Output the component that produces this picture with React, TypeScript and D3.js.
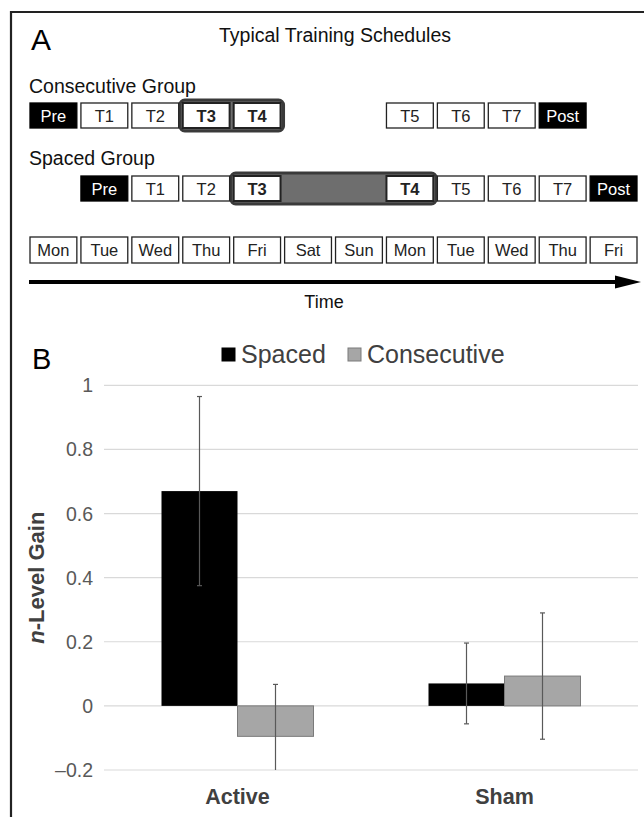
import React from "react";
import * as d3 from "d3";

// ---------- Panel A data ----------
const days = ["Mon", "Tue", "Wed", "Thu", "Fri", "Sat", "Sun", "Mon", "Tue", "Wed", "Thu", "Fri"];
const sessionLabels = ["Pre", "T1", "T2", "T3", "T4", "T5", "T6", "T7", "Post"];
const consecutiveSlots = [0, 1, 2, 3, 4, 7, 8, 9, 10];
const spacedSlots = [1, 2, 3, 4, 7, 8, 9, 10, 11];
const consecutiveHighlight = [3, 4];
const spacedHighlight = [4, 7];

// ---------- Panel B data ----------
const categories = ["Active", "Sham"];
const seriesNames = ["Spaced", "Consecutive"];
const spacedMeans = [0.67, 0.07];
const consecutiveMeans = [-0.095, 0.093];
const spacedErrors = [0.295, 0.126];
const consecutiveErrors = [0.162, 0.197];
const yTicks = [-0.2, 0, 0.2, 0.4, 0.6, 0.8, 1];
const yTickLabels = ["\u20130.2", "0", "0.2", "0.4", "0.6", "0.8", "1"];

const FONT = "'Liberation Sans', Arial, Helvetica, sans-serif";
const seriesColors = ["#000000", "#a6a6a6"];
const seriesStroke = ["#000000", "#7a7a7a"];

export default function App() {
  const W = 644;
  const H = 817;

  // schedule slots
  const slot = d3
    .scaleBand<number>()
    .domain(d3.range(days.length))
    .range([30, 637])
    .paddingInner(0.08)
    .paddingOuter(0);
  const bw = slot.bandwidth();

  const rowConsY = 103;
  const rowSpacedY = 176;
  const rowDaysY = 237;
  const boxH = 25;

  const isBold = (lab: string) => lab === "T3" || lab === "T4";
  const isDark = (lab: string) => lab === "Pre" || lab === "Post";

  const renderRow = (slots: number[], y: number, key: string) =>
    slots.map((s, i) => {
      const lab = sessionLabels[i];
      const x = slot(s)!;
      return (
        <g key={key + i}>
          <rect
            x={x}
            y={y}
            width={bw}
            height={boxH}
            fill={isDark(lab) ? "#000" : "#fff"}
            stroke={isDark(lab) ? "#000" : "#222"}
            strokeWidth={isBold(lab) ? 2 : 1.3}
          />
          <text
            x={x + bw / 2}
            y={y + boxH / 2 + 6}
            textAnchor="middle"
            fontSize={16.5}
            fontWeight={isBold(lab) ? "bold" : "normal"}
            fill={isDark(lab) ? "#fff" : "#222"}
          >
            {lab}
          </text>
        </g>
      );
    });

  const highlight = (range: number[], y: number, fill: string) => {
    const x0 = slot(range[0])! - 3;
    const x1 = slot(range[1])! + bw + 3;
    return (
      <rect
        x={x0}
        y={y - 3}
        width={x1 - x0}
        height={boxH + 6}
        rx={5}
        ry={5}
        fill={fill}
        stroke="#3a3a3a"
        strokeWidth={3}
      />
    );
  };

  // chart scales
  const plotLeft = 104;
  const plotRight = 638;
  const y = d3.scaleLinear().domain([-0.2, 1]).range([770, 385.3]);
  const x0 = d3.scaleBand<string>().domain(categories).range([plotLeft, plotRight]).paddingInner(0).paddingOuter(0);
  const groupW = 152;
  const x1 = d3
    .scaleBand<string>()
    .domain(seriesNames)
    .range([0, groupW])
    .padding(0);

  const values = [spacedMeans, consecutiveMeans];
  const errors = [spacedErrors, consecutiveErrors];
  const [yMin, yMax] = y.domain();

  return (
    <svg
      width={W}
      height={H}
      viewBox={`0 0 ${W} ${H}`}
      style={{ position: "absolute", left: 0, top: 0, fontFamily: FONT, background: "#fff" }}
    >
      <rect x={0} y={0} width={W} height={H} fill="#fff" />
      {/* frame */}
      <line x1={11} y1={12} x2={W} y2={12} stroke="#222" strokeWidth={2.2} />
      <line x1={11} y1={11} x2={11} y2={H} stroke="#222" strokeWidth={2.2} />

      {/* Panel A */}
      <text x={31} y={50} fontSize={30} fill="#000">A</text>
      <text x={335} y={42} fontSize={19.5} textAnchor="middle" fill="#111">
        Typical Training Schedules
      </text>
      <text x={29} y={93} fontSize={19.5} fill="#111">Consecutive Group</text>
      <text x={29} y={165} fontSize={19.5} fill="#111">Spaced Group</text>

      {highlight(consecutiveHighlight, rowConsY, "#6e6e6e")}
      {highlight(spacedHighlight, rowSpacedY, "#6e6e6e")}
      {renderRow(consecutiveSlots, rowConsY, "c")}
      {renderRow(spacedSlots, rowSpacedY, "s")}

      {days.map((d, i) => {
        const x = slot(i)!;
        return (
          <g key={"d" + i}>
            <rect x={x} y={rowDaysY} width={bw} height={26} fill="#fff" stroke="#222" strokeWidth={1.3} />
            <text x={x + bw / 2} y={rowDaysY + 19} textAnchor="middle" fontSize={16.5} fill="#222">
              {d}
            </text>
          </g>
        );
      })}

      {/* time arrow */}
      <line x1={29} y1={282} x2={620} y2={282} stroke="#000" strokeWidth={4} />
      <polygon points="615,275.5 641,282 615,288.5" fill="#000" />
      <text x={324} y={308} textAnchor="middle" fontSize={18} fill="#111">Time</text>

      {/* Panel B */}
      <text x={32} y={369} fontSize={29} fill="#000">B</text>

      {/* legend */}
      {seriesNames.map((s, i) => {
        const lx = i === 0 ? 222 : 348;
        return (
          <g key={"lg" + i}>
            <rect x={lx} y={348} width={13} height={13} fill={seriesColors[i]} stroke={seriesStroke[i]} strokeWidth={1} />
            <text x={lx + 19} y={363} fontSize={25} fill="#404040">{s}</text>
          </g>
        );
      })}

      {/* gridlines and ticks */}
      {yTicks.map((t, i) => (
        <g key={"t" + i}>
          <line x1={plotLeft} x2={plotRight} y1={y(t)} y2={y(t)} stroke="#d9d9d9" strokeWidth={1.2} />
          <text x={93} y={y(t) + 7} textAnchor="end" fontSize={19.5} fill="#595959">
            {yTickLabels[i]}
          </text>
        </g>
      ))}

      {/* bars */}
      {categories.map((c, ci) => {
        const gx = x0(c)! + (x0.bandwidth() - groupW) / 2;
        return (
          <g key={"cat" + ci}>
            {seriesNames.map((s, si) => {
              const v = values[si][ci];
              const bx = gx + x1(s)!;
              const bwid = x1.bandwidth();
              const top = y(Math.max(0, v));
              const bot = y(Math.min(0, v));
              return (
                <rect
                  key={s}
                  x={bx}
                  y={top}
                  width={bwid}
                  height={bot - top}
                  fill={seriesColors[si]}
                  stroke={seriesStroke[si]}
                  strokeWidth={si === 1 ? 1 : 0}
                />
              );
            })}
            {seriesNames.map((s, si) => {
              const v = values[si][ci];
              const e = errors[si][ci];
              const cx = gx + x1(s)! + x1.bandwidth() / 2;
              const hi = Math.min(yMax, v + e);
              const lo = Math.max(yMin, v - e);
              return (
                <g key={"e" + s}>
                  <line x1={cx} x2={cx} y1={y(hi)} y2={y(lo)} stroke="#595959" strokeWidth={1.2} />
                  {v + e <= yMax && (
                    <line x1={cx - 2.5} x2={cx + 2.5} y1={y(hi)} y2={y(hi)} stroke="#595959" strokeWidth={1.2} />
                  )}
                  {v - e >= yMin && (
                    <line x1={cx - 2.5} x2={cx + 2.5} y1={y(lo)} y2={y(lo)} stroke="#595959" strokeWidth={1.2} />
                  )}
                </g>
              );
            })}
            <text
              x={x0(c)! + x0.bandwidth() / 2}
              y={804}
              textAnchor="middle"
              fontSize={21.5}
              fontWeight="bold"
              fill="#404040"
            >
              {c}
            </text>
          </g>
        );
      })}

      {/* y axis title */}
      <text
        transform={`translate(44, ${(y(yMin) + y(yMax)) / 2}) rotate(-90)`}
        textAnchor="middle"
        fontSize={22}
        fontWeight="bold"
        fill="#404040"
      >
        <tspan fontStyle="italic">n</tspan>-Level Gain
      </text>
    </svg>
  );
}
